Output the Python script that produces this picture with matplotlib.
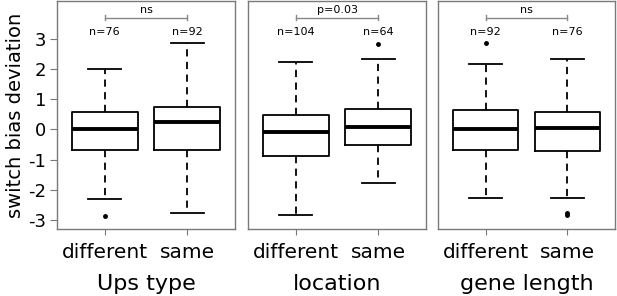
import matplotlib
matplotlib.use("Agg")
import matplotlib.pyplot as plt

panel_titles = ["Ups type", "location", "gene length"]
group_labels = ["different", "same"]
n_labels = [["n=76", "n=92"], ["n=104", "n=64"], ["n=92", "n=76"]]
sig_labels = ["ns", "p=0.03", "ns"]

# per panel: [different, same]
q1 = [[-0.68, -0.68], [-0.89, -0.52], [-0.69, -0.73]]
med = [[0.00, 0.25], [-0.08, 0.09], [0.02, 0.06]]
q3 = [[0.57, 0.75], [0.49, 0.69], [0.65, 0.57]]
whislo = [[-2.30, -2.78], [-2.85, -1.79], [-2.29, -2.27]]
whishi = [[2.02, 2.87], [2.25, 2.35], [2.17, 2.35]]
fliers = [[[-2.87], []], [[], [2.85]], [[2.87], [-2.78, -2.86]]]

yticks = [-3, -2, -1, 0, 1, 2, 3]

fig = plt.figure(figsize=(6.17, 2.96), dpi=100)
W, H = 617, 296
panels_px = [(57, 235), (248, 426), (438, 615)]
top_px, bot_px = 1, 229
frame_col = "#7a7a7a"

for p in range(3):
    l, r = panels_px[p]
    ax = fig.add_axes([l / W, 1 - bot_px / H, (r - l) / W, (bot_px - top_px) / H])
    stats = []
    for g in range(2):
        stats.append(dict(med=med[p][g], q1=q1[p][g], q3=q3[p][g],
                          whislo=whislo[p][g], whishi=whishi[p][g],
                          fliers=fliers[p][g], label=group_labels[g]))
    ax.bxp(stats, positions=[1, 2], widths=0.8, showfliers=True,
           boxprops=dict(color="black", linewidth=1.3),
           whiskerprops=dict(color="black", linewidth=1.3, linestyle=(0, (4, 3))),
           capprops=dict(color="black", linewidth=1.3),
           medianprops=dict(color="black", linewidth=2.8),
           flierprops=dict(marker="o", markersize=2.5, markerfacecolor="black",
                           markeredgecolor="black"),
           capwidths=0.4)
    ax.set_xlim(0.42, 2.58)
    ax.set_ylim(-3.31, 4.27)
    for s in ax.spines.values():
        s.set_color(frame_col)
        s.set_linewidth(1.0)
    ax.set_xticks([1, 2])
    ax.set_xticklabels(group_labels, fontsize=14.5)
    ax.tick_params(axis="x", length=4, color=frame_col, pad=6)
    ax.set_xlabel(panel_titles[p], fontsize=16, labelpad=9)
    if p == 0:
        ax.set_yticks(yticks)
        ax.set_yticklabels([str(v) for v in yticks], fontsize=13)
        ax.tick_params(axis="y", length=5, color=frame_col, pad=3)
        ax.set_ylabel("switch bias deviation", fontsize=14, labelpad=2)
    else:
        ax.set_yticks([])
    # n labels
    for g in range(2):
        ax.text(g + 1, 3.25, n_labels[p][g], ha="center", va="center", fontsize=8)
    # significance bracket
    ax.plot([1, 2], [3.72, 3.72], color="#888888", linewidth=1.0)
    ax.plot([1, 1], [3.65, 3.79], color="#888888", linewidth=1.0)
    ax.plot([2, 2], [3.65, 3.79], color="#888888", linewidth=1.0)
    ax.text(1.5, 3.97, sig_labels[p], ha="center", va="center", fontsize=8)

fig.savefig("out.png", dpi=100)
